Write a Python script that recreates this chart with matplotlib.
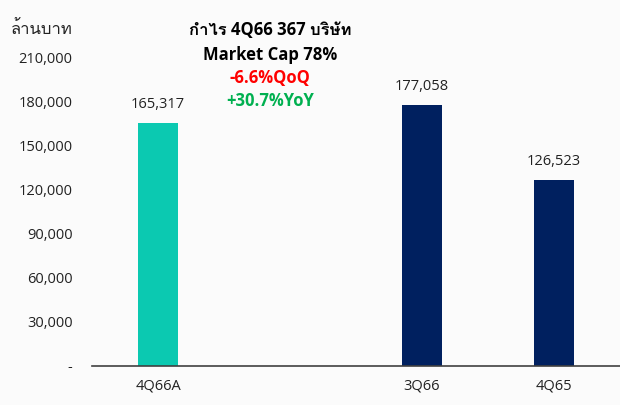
import matplotlib
matplotlib.use("Agg")
import matplotlib.pyplot as plt
from matplotlib.font_manager import fontManager
from matplotlib.ft2font import FT2Font
from matplotlib.ticker import FuncFormatter

categories = ["4Q66A", "", "3Q66", "4Q65"]
profits = [165317, None, 177058, 126523]
bar_colors = ["#0BC9B1", None, "#00205F", "#00205F"]
y_ticks = [0, 30000, 60000, 90000, 120000, 150000, 180000, 210000]
unit_label = "ล้านบาท"
title_lines = ["กำไร 4Q66 367 บริษัท", "Market Cap 78%", "-6.6%QoQ", "+30.7%YoY"]
title_colors = ["#000000", "#000000", "#FF0000", "#00B050"]


def find_thai_font():
    # first installed font that has the Thai letter ko kai
    for f in fontManager.ttflist:
        try:
            if 0x0E01 in FT2Font(f.fname).get_charmap():
                return f.name
        except Exception:
            continue
    return None


thai = find_thai_font()
family = ["Open Sans"] + ([thai] if thai else []) + ["DejaVu Sans"]
plt.rcParams["font.family"] = family

fig = plt.figure(figsize=(6.2, 4.05), dpi=100, facecolor="#fbfbfb")
ax = fig.add_axes([92 / 620, 39 / 405, 1 - 92 / 620, (366 - 57) / 405])
ax.set_facecolor("#fbfbfb")

for i, (v, c) in enumerate(zip(profits, bar_colors)):
    if v is None:
        continue
    ax.bar(i, v, width=0.31, color=c)
    ax.text(i, v + 7500, f"{v:,}", ha="center", va="bottom", fontsize=10.5, color="#222222")

ax.set_xlim(-0.5, len(categories) - 0.5)
ax.set_ylim(0, 210000)
ax.set_yticks(y_ticks)
ax.yaxis.set_major_formatter(FuncFormatter(lambda v, p: "-" if v == 0 else f"{int(v):,}"))
ax.set_xticks([i for i, c in enumerate(categories) if c])
ax.set_xticklabels([c for c in categories if c])
ax.tick_params(axis="both", length=0, labelsize=10.5, colors="#222222")
ax.tick_params(axis="y", pad=14)
ax.tick_params(axis="x", pad=9)
for s in ["left", "right", "top"]:
    ax.spines[s].set_visible(False)
ax.spines["bottom"].set_color("#404040")
ax.spines["bottom"].set_linewidth(1.2)

fig.text(42 / 620, 1 - 30 / 405, unit_label, ha="center", va="center", fontsize=12, color="#222222")
ys = [30, 55, 78, 101]
for t, c, y in zip(title_lines, title_colors, ys):
    fig.text(270 / 620, 1 - y / 405, t, ha="center", va="center", fontsize=12,
             fontweight="bold", color=c)

fig.savefig("out.png", dpi=100, facecolor=fig.get_facecolor())
